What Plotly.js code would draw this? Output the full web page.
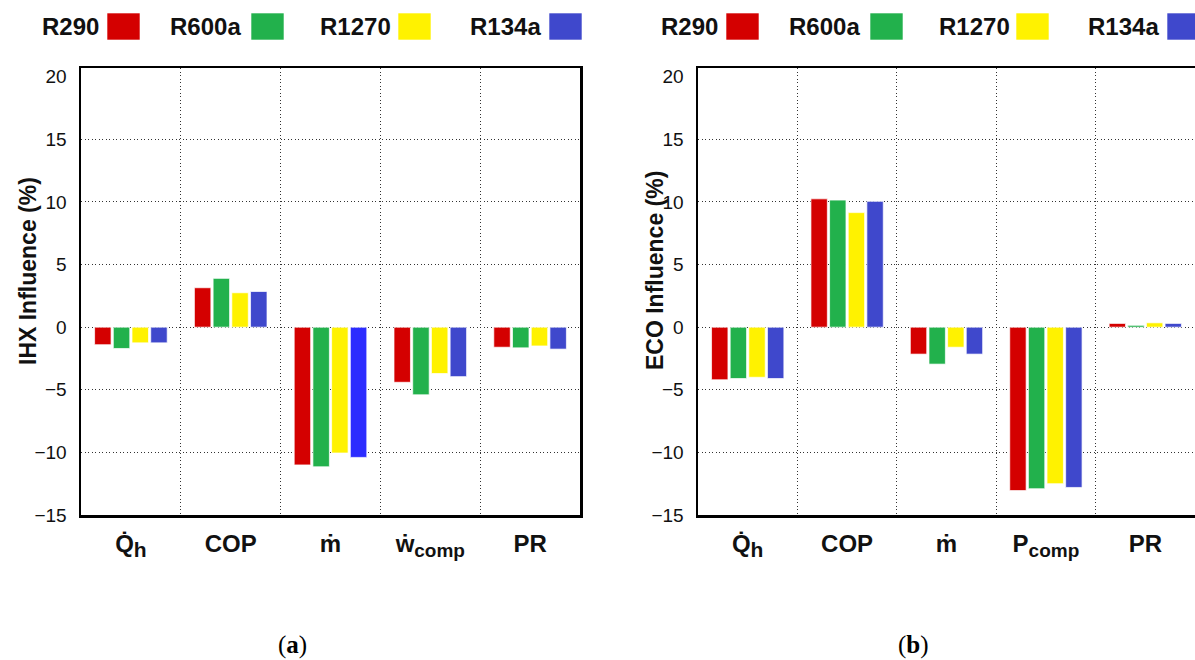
<!DOCTYPE html>
<html>
<head>
<meta charset="utf-8">
<script src="https://cdn.plot.ly/plotly-3.0.1.min.js"></script>
<style>html,body{margin:0;padding:0;background:#fff;}#chart{width:1195px;height:660px;}</style>
</head>
<body>
<div id="chart"></div>
<script>
// ---- data ----
const refrigerants = ["R290", "R600a", "R1270", "R134a"];
const categoriesA = ["Q\u0307<sub><span style=\"font-size:21px\">h</span></sub>", "COP", "\u1E41", "\u1E87<sub><span style=\"font-size:19px\">comp</span></sub>", "PR"];
const categoriesB = ["Q\u0307<sub><span style=\"font-size:21px\">h</span></sub>", "COP", "\u1E41", "P<sub><span style=\"font-size:19px\">comp</span></sub>", "PR"];
// IHX influence (%)
const ihxR290  = [-1.4, 3.15, -11.0, -4.4, -1.6];
const ihxR600a = [-1.7, 3.9, -11.15, -5.4, -1.65];
const ihxR1270 = [-1.25, 2.75, -10.05, -3.7, -1.5];
const ihxR134a = [-1.25, 2.85, -10.4, -3.95, -1.75];
// ECO influence (%)
const ecoR290  = [-4.2, 10.25, -2.15, -13.05, 0.3];
const ecoR600a = [-4.1, 10.15, -2.95, -12.9, 0.15];
const ecoR1270 = [-4.0, 9.15, -1.6, -12.5, 0.35];
const ecoR134a = [-4.1, 10.05, -2.15, -12.8, 0.3];
const yTicks = [-15, -10, -5, 0, 5, 10, 15, 20];
const gridTicks = [-10, -5, 0, 5, 10, 15];

// ---- styles ----
const colors = ["#D40000", "#22B14C", "#FFF200", "#3F48CC"];
const blueA = ["#3F48CC", "#3F48CC", "#2C2CFF", "#3F48CC", "#3F48CC"];
const W = 1195, H = 660;
const FONT = "Liberation Sans, Arial, Helvetica, sans-serif";
const GRID = {color: "#333", dash: "1px,2.5px"};

const seriesA = [ihxR290, ihxR600a, ihxR1270, ihxR134a];
const seriesB = [ecoR290, ecoR600a, ecoR1270, ecoR134a];

const traces = [];
refrigerants.forEach((name, i) => {
  traces.push({
    type: "bar", name: name, x: categoriesA, y: seriesA[i], xaxis: "x", yaxis: "y",
    marker: {color: i === 3 ? blueA : colors[i], line: {color: "rgba(255,255,255,0.7)", width: 1}},
    showlegend: false, hoverinfo: "x+y+name"
  });
  traces.push({
    type: "bar", name: name, x: categoriesB, y: seriesB[i], xaxis: "x2", yaxis: "y2",
    marker: {color: colors[i], line: {color: "rgba(255,255,255,0.7)", width: 1}},
    showlegend: false, hoverinfo: "x+y+name"
  });
});

function xAxis(domain, anchor) {
  return {
    domain: domain, anchor: anchor, type: "category",
    tickson: "boundaries", ticks: "",
    showgrid: true, gridcolor: GRID.color, griddash: GRID.dash, gridwidth: 1,
    showline: true, linecolor: "#000", linewidth: 2.5, mirror: true,
    tickfont: {family: FONT, size: 24, color: "#111", weight: "bold"},
    ticklabelstandoff: 6, automargin: false, fixedrange: true
  };
}
function yAxis(anchor) {
  return {
    domain: [1 - 515 / H, 1 - 68 / H], anchor: anchor,
    range: [-15, 20.7], tickmode: "array", tickvals: yTicks,
    ticks: "", showgrid: false, zeroline: false,
    minor: {tickmode: "array", tickvals: gridTicks, showgrid: true, gridcolor: GRID.color, griddash: GRID.dash, gridwidth: 1, ticks: ""},
    showline: true, linecolor: "#000", linewidth: 2.5, mirror: true,
    tickfont: {family: FONT, size: 19, color: "#111"},
    ticklabelstandoff: 8, automargin: false, fixedrange: true
  };
}

const annotations = [];
const shapes = [];
function px(x) { return x / W; }
function py(y) { return 1 - y / H; }

// y titles
annotations.push({text: "<b>IHX Influence (%)</b>", x: px(28), y: py(271), xref: "paper", yref: "paper",
  textangle: -90, showarrow: false, xanchor: "center", yanchor: "middle",
  font: {family: FONT, size: 23, color: "#111"}});
annotations.push({text: "<b>ECO Influence (%)</b>", x: px(655), y: py(271), xref: "paper", yref: "paper",
  textangle: -90, showarrow: false, xanchor: "center", yanchor: "middle",
  font: {family: FONT, size: 23, color: "#111"}});

// manual legends (text then colour box)
const legA = [[101, 107], [243, 251], [393, 398], [543, 549]];
const legB = [[720, 726], [862, 870], [1012, 1016], [1161, 1167]];
[legA, legB].forEach(leg => {
  leg.forEach((p, i) => {
    annotations.push({text: "<b>" + refrigerants[i] + "</b>", x: px(p[0]), y: py(27), xref: "paper", yref: "paper",
      showarrow: false, xanchor: "right", yanchor: "middle",
      font: {family: FONT, size: 24, color: "#111"}});
    shapes.push({type: "rect", xref: "paper", yref: "paper",
      x0: px(p[1]), x1: px(p[1] + 33), y0: py(40), y1: py(13),
      fillcolor: colors[i], line: {color: "rgba(255,255,255,0.6)", width: 1}});
  });
});

// panel captions
annotations.push({text: "(<b>a</b>)", x: px(292), y: py(645), xref: "paper", yref: "paper",
  showarrow: false, xanchor: "center", yanchor: "middle",
  font: {family: "Liberation Serif, DejaVu Serif, serif", size: 25, color: "#000"}});
annotations.push({text: "(<b>b</b>)", x: px(913), y: py(645), xref: "paper", yref: "paper",
  showarrow: false, xanchor: "center", yanchor: "middle",
  font: {family: "Liberation Serif, DejaVu Serif, serif", size: 25, color: "#000"}});

const layout = {
  width: W, height: H,
  margin: {l: 0, r: 0, t: 0, b: 0},
  paper_bgcolor: "#fff", plot_bgcolor: "#fff",
  barmode: "group", bargap: 0.25, bargroupgap: 0.12,
  font: {family: FONT, color: "#111"},
  showlegend: false,
  xaxis: xAxis([px(81), px(580)], "y"),
  yaxis: yAxis("x"),
  xaxis2: xAxis([px(698), 1.0], "y2"),
  yaxis2: yAxis("x2"),
  annotations: annotations,
  shapes: shapes
};

Plotly.newPlot("chart", traces, layout, {displayModeBar: false, staticPlot: true});
</script>
</body>
</html>
